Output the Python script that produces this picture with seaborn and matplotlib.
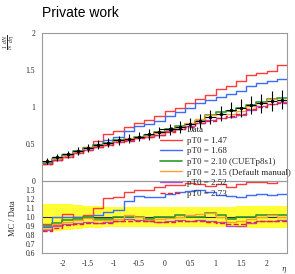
import numpy as np
import pandas as pd
import matplotlib
matplotlib.use("Agg")
import matplotlib.pyplot as plt
import seaborn as sns
from matplotlib.ticker import MultipleLocator, FixedLocator
from matplotlib.lines import Line2D

# ---------------- data ----------------
eta_edges = [-2.4, -2.2, -2.0, -1.8, -1.6, -1.4, -1.2, -1.0, -0.8, -0.6, -0.4, -0.2,
             0.0, 0.2, 0.4, 0.6, 0.8, 1.0, 1.2, 1.4, 1.6, 1.8, 2.0, 2.2, 2.4]
eta_centers = [-2.3, -2.1, -1.9, -1.7, -1.5, -1.3, -1.1, -0.9, -0.7, -0.5, -0.3, -0.1,
               0.1, 0.3, 0.5, 0.7, 0.9, 1.1, 1.3, 1.5, 1.7, 1.9, 2.1, 2.3]

data_vals = [0.27, 0.32, 0.36, 0.41, 0.45, 0.49, 0.52, 0.55, 0.57, 0.60, 0.63, 0.66,
             0.70, 0.73, 0.77, 0.81, 0.86, 0.91, 0.96, 0.99, 1.03, 1.05, 1.08, 1.10]
data_relerr = [0.15, 0.15, 0.14, 0.13, 0.12, 0.12, 0.11, 0.11, 0.11, 0.11, 0.11, 0.11,
               0.11, 0.11, 0.11, 0.11, 0.11, 0.11, 0.11, 0.12, 0.12, 0.12, 0.12, 0.12]

mc_147 = [0.25, 0.29, 0.37, 0.41, 0.46, 0.54, 0.63, 0.67, 0.73, 0.78, 0.82, 0.88,
          0.95, 0.99, 1.06, 1.11, 1.16, 1.24, 1.28, 1.35, 1.43, 1.46, 1.49, 1.57]
mc_168 = [0.24, 0.32, 0.36, 0.41, 0.45, 0.50, 0.55, 0.59, 0.67, 0.74, 0.77, 0.81,
          0.88, 0.93, 0.99, 1.05, 1.10, 1.13, 1.18, 1.21, 1.28, 1.32, 1.35, 1.38]
mc_210 = [0.243, 0.298, 0.349, 0.402, 0.450, 0.480, 0.510, 0.550, 0.570, 0.600, 0.617, 0.660,
          0.700, 0.745, 0.770, 0.810, 0.894, 0.928, 0.941, 0.990, 1.030, 1.071, 1.102, 1.122]
mc_215 = [0.235, 0.294, 0.342, 0.398, 0.446, 0.475, 0.504, 0.539, 0.581, 0.600, 0.611, 0.647,
          0.693, 0.730, 0.785, 0.834, 0.894, 0.910, 0.902, 0.941, 1.009, 1.050, 1.102, 1.100]
mc_252 = [0.230, 0.288, 0.331, 0.381, 0.423, 0.456, 0.489, 0.528, 0.559, 0.582, 0.599, 0.627,
          0.672, 0.708, 0.739, 0.786, 0.826, 0.855, 0.864, 0.891, 0.958, 1.008, 1.037, 1.067]
mc_273 = [0.227, 0.282, 0.328, 0.377, 0.419, 0.456, 0.484, 0.523, 0.547, 0.576, 0.599, 0.620,
          0.665, 0.701, 0.732, 0.778, 0.817, 0.846, 0.883, 0.911, 0.968, 0.998, 1.037, 1.056]

mc_labels = ["pT0 = 1.47", "pT0 = 1.68", "pT0 = 2.10 (CUETp8s1)",
             "pT0 = 2.15 (Default manual)", "pT0 = 2.52", "pT0 = 2.73"]
mc_series = [mc_147, mc_168, mc_210, mc_215, mc_252, mc_273]
mc_colors = ["#ff3b3b", "#3b6cff", "#2e9a2e", "#ffa033", "#b04fd0", "#ee2222"]
mc_styles = ["-", "-", "-", "-", "-", "--"]
mc_widths = [1.0, 1.0, 1.2, 1.0, 1.0, 1.0]

yticks_top = [0, 0.5, 1, 1.5, 2]
yticklabels_top = ["0", "0.5", "1", "1.5", "2"]
yticks_ratio = [0.6, 0.7, 0.8, 0.9, 1.0, 1.1, 1.2, 1.3]
yticklabels_ratio = ["0.6", "0.7", "0.8", "0.9", "1.0", "1.1", "1.2", "1.3"]
xticks = [-2, -1.5, -1, -0.5, 0, 0.5, 1, 1.5, 2]
xticklabels = ["-2", "-1.5", "-1", "-0.5", "0", "0.5", "1", "1.5", "2"]

# ---------------- style ----------------
sns.set_theme(style="white")
plt.rcParams["font.family"] = ["Liberation Serif", "DejaVu Serif"]
plt.rcParams["axes.unicode_minus"] = False
plt.rcParams["mathtext.fontset"] = "dejavuserif"

fig = plt.figure(figsize=(2.95, 2.74), dpi=100)
L, W = 42 / 295, 245 / 295
ax1 = fig.add_axes([L, 1 - 181 / 274, W, 148 / 274])
ax2 = fig.add_axes([L, 1 - 253 / 274, W, 72 / 274])

edges = np.array(eta_edges)
dv = np.array(data_vals)
rel = np.array(data_relerr)


def step_y(v):
    v = np.asarray(v, dtype=float)
    return np.append(v, v[-1])


# ---- top panel ----
for vals, c, ls, lw in zip(mc_series, mc_colors, mc_styles, mc_widths):
    sns.lineplot(x=edges, y=step_y(vals), drawstyle="steps-post", color=c,
                 linestyle=ls, lw=lw, estimator=None, sort=False, legend=False, ax=ax1)

ax1.errorbar(eta_centers, dv, yerr=dv * rel, xerr=0.1, fmt="none", ecolor="black",
             elinewidth=0.8, capsize=0, zorder=5)
sns.scatterplot(x=eta_centers, y=dv, color="black", s=6, linewidth=0, ax=ax1, zorder=6)

ax1.set_xlim(-2.4, 2.4)
ax1.set_ylim(0, 2)
ax1.yaxis.set_major_locator(FixedLocator(yticks_top))
ax1.set_yticklabels(yticklabels_top)
ax1.yaxis.set_minor_locator(MultipleLocator(0.1))
ax1.xaxis.set_major_locator(FixedLocator(xticks))
ax1.xaxis.set_minor_locator(MultipleLocator(0.1))
ax1.tick_params(axis="x", labelbottom=False)

# ---- ratio panel ----
ax2.fill_between(edges, step_y(1 - rel), step_y(1 + rel), step="post",
                 color="#ffff33", lw=0, zorder=1)
sns.lineplot(x=edges, y=step_y(np.ones(len(dv))), drawstyle="steps-post", color="#333333",
             lw=0.8, estimator=None, sort=False, legend=False, ax=ax2)
for vals, c, ls, lw in zip(mc_series, mc_colors, mc_styles, mc_widths):
    ratio = np.array(vals) / dv
    sns.lineplot(x=edges, y=step_y(ratio), drawstyle="steps-post", color=c,
                 linestyle=ls, lw=lw, estimator=None, sort=False, legend=False, ax=ax2)

ax2.set_xlim(-2.4, 2.4)
ax2.set_ylim(0.6, 1.4)
ax2.yaxis.set_major_locator(FixedLocator(yticks_ratio))
ax2.set_yticklabels(yticklabels_ratio)
ax2.yaxis.set_minor_locator(MultipleLocator(0.02))
ax2.xaxis.set_major_locator(FixedLocator(xticks))
ax2.set_xticklabels(xticklabels)
ax2.xaxis.set_minor_locator(MultipleLocator(0.1))

for ax in (ax1, ax2):
    ax.set_xlabel("")
    ax.set_ylabel("")
    for sp in ax.spines.values():
        sp.set_color("#9a9a9a")
        sp.set_linewidth(0.8)
    ax.tick_params(which="both", direction="in", color="#555555", labelsize=5.5,
                   labelcolor="#222222", top=False, right=False, pad=5)
    ax.tick_params(which="major", length=4, width=0.6)
    ax.tick_params(which="minor", length=2, width=0.5)
ax2.patch.set_alpha(0)

# ---- legend ----
handles = [Line2D([0], [0], color="black", marker="o", markersize=2, lw=0.8)]
for c, ls, lw in zip(mc_colors, mc_styles, mc_widths):
    handles.append(Line2D([0], [0], color=c, linestyle=ls, lw=lw))
fig.legend(handles, ["Data"] + mc_labels, loc="upper left",
           bbox_to_anchor=(160 / 295, 1 - 126 / 274), frameon=False,
           fontsize=6.5, handlelength=2.4, handletextpad=0.6, labelspacing=0.25,
           borderpad=0, borderaxespad=0)

# ---- texts ----
fig.text(42 / 295, 1 - 13 / 274, "Private work", family="Liberation Sans",
         fontsize=10, va="center", ha="left", color="black")
fig.text(9 / 295, 1 - 42 / 274, r"$\frac{1}{N}\,\frac{dN}{d\eta}$", rotation=90,
         fontsize=5, va="center", ha="center")
fig.text(13 / 295, 1 - 218 / 274, "MC / Data", rotation=90, fontsize=6,
         va="center", ha="center")
fig.text(284 / 295, 1 - 270 / 274, r"$\eta$", fontsize=5, va="center", ha="center")

fig.savefig("out.png", dpi=100)
